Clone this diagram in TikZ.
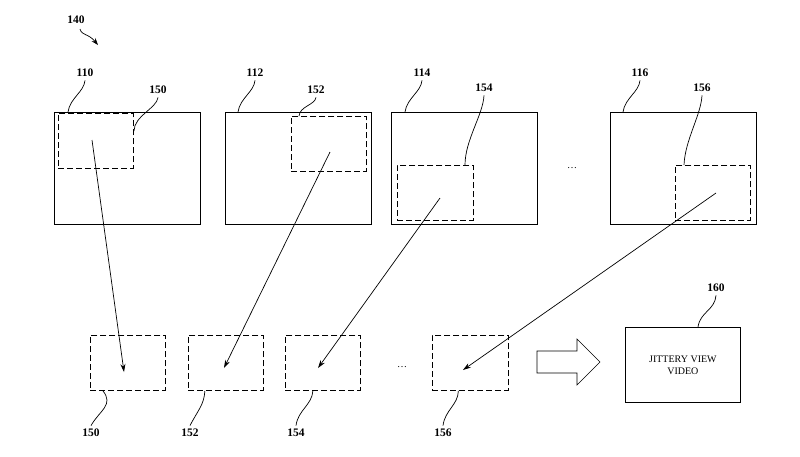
\documentclass[tikz,border=0pt]{standalone}
\usepackage{fontspec}
\setmainfont{Liberation Serif}
\usetikzlibrary{arrows.meta}
\begin{document}
\begin{tikzpicture}[x=1pt,y=-1pt,
 frame/.style={draw,line width=0.8pt},
 crop/.style={draw,line width=0.8pt,dash pattern=on 6pt off 3pt},
 lbl/.style={font=\fontsize{11.5}{12}\selectfont\bfseries},
 lead/.style={line width=0.7pt},
 arr/.style={-{Stealth[length=8pt,width=5pt]},line width=0.7pt}]
\useasboundingbox (0,0) rectangle (800,456);
% frames
\node[frame,minimum width=146pt,minimum height=112pt,anchor=north west] (f110) at (54,112) {};
\node[frame,minimum width=146pt,minimum height=112pt,anchor=north west] (f112) at (225,112) {};
\node[frame,minimum width=146pt,minimum height=112pt,anchor=north west] (f114) at (391,112) {};
\node[frame,minimum width=146pt,minimum height=112pt,anchor=north west] (f116) at (610,112) {};
% crops in frames
\node[crop,minimum width=75pt,minimum height=55pt,anchor=north west] (c150) at (58,113) {};
\node[crop,minimum width=75pt,minimum height=55pt,anchor=north west] (c152) at (291,116) {};
\node[crop,minimum width=76pt,minimum height=55pt,anchor=north west] (c154) at (397,165) {};
\node[crop,minimum width=75pt,minimum height=55pt,anchor=north west] (c156) at (675,165) {};
% bottom crops
\node[crop,minimum width=75pt,minimum height=55pt,anchor=north west] (b150) at (90,335) {};
\node[crop,minimum width=75pt,minimum height=55pt,anchor=north west] (b152) at (188,335) {};
\node[crop,minimum width=75pt,minimum height=55pt,anchor=north west] (b154) at (285,335) {};
\node[crop,minimum width=76pt,minimum height=55pt,anchor=north west] (b156) at (432,335) {};
% big arrow and result
\draw[line width=0.6pt] (537,351) -- (577,351) -- (577,339) -- (600,362) -- (577,385) -- (577,373) -- (537,373) -- cycle;
\node[frame,minimum width=115pt,minimum height=75pt,anchor=north west,align=center,font=\fontsize{10}{12}\selectfont] (jv) at (625,327) {JITTERY VIEW\\VIDEO};
% ellipses
\node (d1) at (572,168) {\dots};
\node (d2) at (402,367) {\dots};
% arrows
\coordinate (s1) at (92,140); \coordinate (e1) at (124,372);
\coordinate (s2) at (330,152); \coordinate (e2) at (224,368);
\coordinate (s3) at (440,198); \coordinate (e3) at (318,368);
\coordinate (s4) at (716,193); \coordinate (e4) at (463,370);
\draw[arr] (s1) -- (e1);
\draw[arr] (s2) -- (e2);
\draw[arr] (s3) -- (e3);
\draw[arr] (s4) -- (e4);
% labels
\node[lbl] (l140) at (76,20) {140};
\coordinate (a140) at (98,45);
\draw[lead,-{Stealth[length=7pt,width=5pt]}] (80,29) .. controls (82,36) and (88,33) .. (a140);
\node[lbl] (l110) at (85,73) {110};
\draw[lead] (l110.south) .. controls (84,92) and (70,98) .. (68,112);
\node[lbl] (l150) at (158,90) {150};
\draw[lead] (l150.south) .. controls (157,108) and (134,116) .. (134,131);
\node[lbl] (l112) at (255,73) {112};
\draw[lead] (l112.south) .. controls (254,92) and (240,98) .. (238,112);
\node[lbl] (l152) at (316,90) {152};
\draw[lead] (l152.south) .. controls (315,105) and (300,106) .. (299,116);
\node[lbl] (l114) at (422,73) {114};
\draw[lead] (l114.south) .. controls (421,92) and (407,98) .. (405,112);
\node[lbl] (l154) at (484,88) {154};
\draw[lead] (l154.south) .. controls (483,115) and (465,140) .. (465,165);
\node[lbl] (l116) at (640,73) {116};
\draw[lead] (l116.south) .. controls (639,92) and (625,98) .. (623,112);
\node[lbl] (l156) at (702,88) {156};
\draw[lead] (l156.south) .. controls (701,115) and (685,140) .. (684,165);
\node[lbl] (l160) at (716,288) {160};
\draw[lead] (l160.south) .. controls (715,310) and (700,312) .. (698,327);
% bottom labels
\node[lbl] (m150) at (91,433) {150};
\draw[lead] (b150.south) ++(-25,0) .. controls (114,405) and (100,410) .. (m150.north);
\node[lbl] (m152) at (190,433) {152};
\draw[lead] (b152.south) ++(-21,0) .. controls (204,405) and (198,410) .. (m152.north);
\node[lbl] (m154) at (296,433) {154};
\draw[lead] (b154.south) ++(-10,0) .. controls (312,405) and (298,410) .. (m154.north);
\node[lbl] (m156) at (443,433) {156};
\draw[lead] (b156.south) ++(-12,0) .. controls (458,405) and (445,410) .. (m156.north);
\end{tikzpicture}
\end{document}
